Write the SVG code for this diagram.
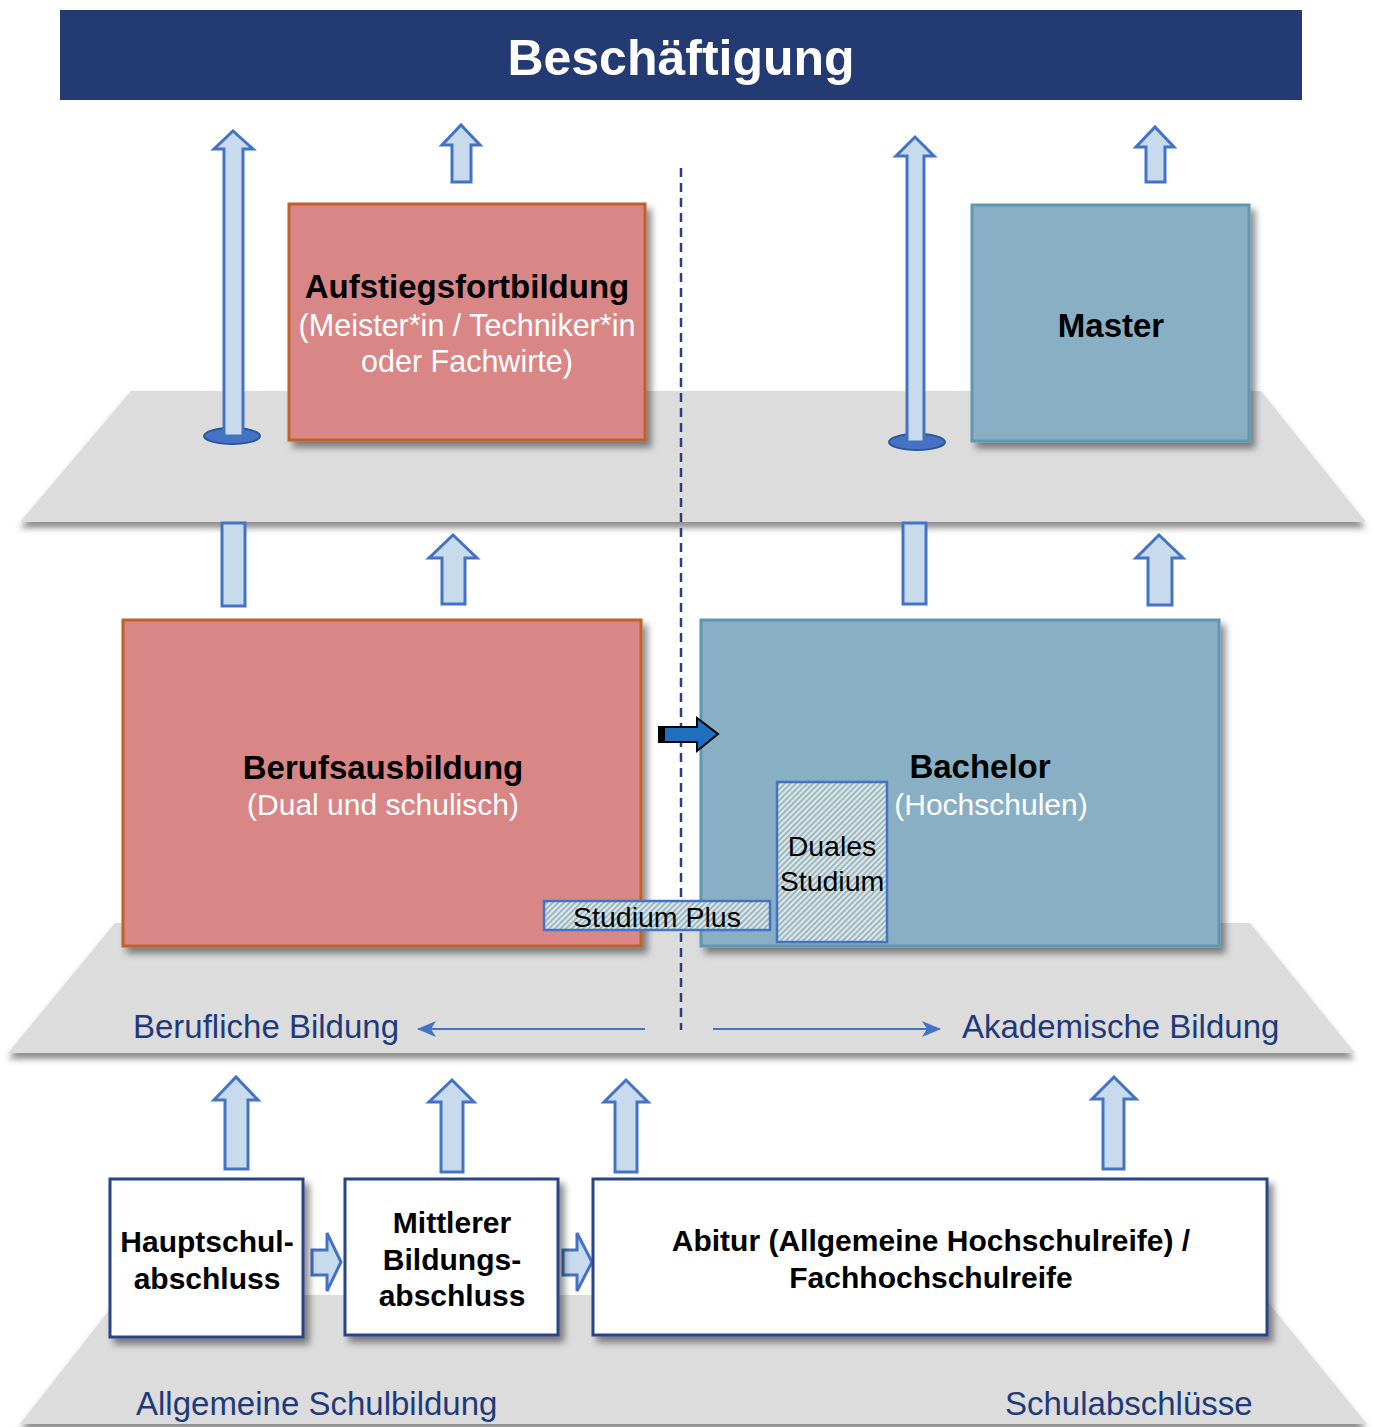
<svg xmlns="http://www.w3.org/2000/svg" width="1373" height="1427" viewBox="0 0 1373 1427">
<defs>
<style>
.plat{fill:#DCDCDC;filter:url(#pshadow)}
.blk{fill:#C8DBEC;stroke:#4472C4;stroke-width:3;stroke-linejoin:miter}
.red{fill:#D98686;stroke:#C0602A;stroke-width:3;filter:url(#bshadow)}
.teal{fill:#88AFC3;stroke:#5E97B4;stroke-width:3;filter:url(#bshadow)}
.school{fill:#FFFFFF;stroke:#2B4585;stroke-width:3;filter:url(#bshadow)}
.hatch{fill:url(#hatch);stroke:#4472C4;stroke-width:2.5}
.t{font-family:"Liberation Sans",Arial,sans-serif;text-anchor:middle}
.b{font-weight:bold;fill:#000}
.w{fill:#FFFFFF}
.k{fill:#000}
.lab{font-family:"Liberation Sans",Arial,sans-serif;font-size:33px;fill:#1F3A7A}
.ell{fill:#4472C4;stroke:#2F5597;stroke-width:2}
.harr{stroke:#4472C4;stroke-width:2;fill:none}
</style>
<filter id="pshadow" x="-5%" y="-10%" width="110%" height="130%">
<feDropShadow dx="0" dy="6" stdDeviation="3" flood-color="#404040" flood-opacity="0.6"/>
</filter>
<filter id="bshadow" x="-10%" y="-10%" width="125%" height="125%">
<feDropShadow dx="5" dy="6" stdDeviation="3.5" flood-color="#000" flood-opacity="0.45"/>
</filter>
<pattern id="hatch" width="4" height="4" patternUnits="userSpaceOnUse" patternTransform="rotate(45)">
<rect width="4" height="4" fill="#DDE7E9"/>
<rect width="2" height="4" fill="#9DB8BF"/>
</pattern>
<marker id="ah" viewBox="0 0 20 16" refX="19" refY="8" markerWidth="20" markerHeight="16" markerUnits="userSpaceOnUse" orient="auto">
<path d="M20,8 L1,0 L6,8 L1,16 Z" fill="#4472C4"/>
</marker>
</defs>

<rect width="1373" height="1427" fill="#FFFFFF"/>

<g id="platforms">
<polygon class="plat" points="131,391 1261,391 1366,522 20,522"/>
<polygon class="plat" points="115,923 1250,923 1355,1053 8,1053"/>
<polygon class="plat" points="121,1295 1262,1295 1367,1424 20,1424"/>
</g>

<g id="banner">
<rect x="60" y="10" width="1242" height="90" fill="#233A73"/>
<text class="t" x="681" y="75" font-size="50" font-weight="bold" fill="#FFFFFF">Beschäftigung</text>
</g>

<g id="connectors">
<ellipse class="ell" cx="232" cy="436" rx="28" ry="8"/>
<ellipse class="ell" cx="917" cy="442" rx="28" ry="8"/>
<path class="blk" d="M224,436 L224,149 L214,149 L233,131 L253,149 L243,149 L243,436 Z"/>
<path class="blk" d="M452,182 L452,145 L442,145 L461,125 L480,145 L471,145 L471,182 Z"/>
<path class="blk" d="M907,442 L907,156 L896,156 L915,137 L934,156 L924,156 L924,442 Z"/>
<path class="blk" d="M1146,182 L1146,147 L1136,147 L1155,127 L1174,147 L1165,147 L1165,182 Z"/>
<rect class="blk" x="222" y="523" width="23" height="83"/>
<path class="blk" d="M442,604 L442,558 L429,558 L453,535 L477,558 L465,558 L465,604 Z"/>
<rect class="blk" x="903" y="523" width="23" height="81"/>
<path class="blk" d="M1148,605 L1148,558 L1136,558 L1159,535 L1183,558 L1172,558 L1172,605 Z"/>
<path class="blk" d="M225,1169 L225,1100 L214,1100 L236,1077 L258,1100 L248,1100 L248,1169 Z"/>
<path class="blk" d="M441,1172 L441,1102 L429,1102 L452,1080 L474,1102 L463,1102 L463,1172 Z"/>
<path class="blk" d="M615,1172 L615,1102 L604,1102 L626,1080 L648,1102 L637,1102 L637,1172 Z"/>
<path class="blk" d="M1103,1169 L1103,1099 L1092,1099 L1114,1077 L1136,1099 L1124,1099 L1124,1169 Z"/>
<path class="blk" d="M312,1250 L327,1250 L327,1233 L341,1262 L327,1291 L327,1275 L312,1275 Z"/>
<path class="blk" d="M563,1250 L577,1250 L577,1233 L592,1262 L577,1291 L577,1275 L563,1275 Z"/>
<line class="harr" x1="645" y1="1029" x2="418" y2="1029" marker-end="url(#ah)"/>
<line class="harr" x1="713" y1="1029" x2="940" y2="1029" marker-end="url(#ah)"/>
</g>

<g id="aufstieg">
<rect class="red" x="289" y="204" width="356" height="236"/>
<text class="t b" x="467" y="298" font-size="33">Aufstiegsfortbildung</text>
<text class="t w" x="467" y="336" font-size="30.5">(Meister*in / Techniker*in</text>
<text class="t w" x="467" y="372" font-size="30.5">oder Fachwirte)</text>
</g>

<g id="master">
<rect class="teal" x="972" y="205" width="277" height="236"/>
<text class="t b" x="1111" y="337" font-size="33">Master</text>
</g>

<g id="berufsausbildung">
<rect class="red" x="123" y="620" width="518" height="326"/>
<text class="t b" x="383" y="779" font-size="33">Berufsausbildung</text>
<text class="t w" x="383" y="815" font-size="30">(Dual und schulisch)</text>
</g>

<g id="bachelor">
<rect class="teal" x="701" y="620" width="518" height="326"/>
<text class="t b" x="980" y="778" font-size="33">Bachelor</text>
<text class="t w" x="991" y="815" font-size="30">(Hochschulen)</text>
</g>

<g id="divider">
<line x1="681" y1="168" x2="681" y2="1030" stroke="#2B3F7E" stroke-width="2.5" stroke-dasharray="9 6"/>
</g>

<g id="duales-studium">
<rect class="hatch" x="777" y="782" width="110" height="160"/>
<text class="t k" x="832" y="856" font-size="28.5">Duales</text>
<text class="t k" x="832" y="891" font-size="28.5">Studium</text>
</g>

<g id="studium-plus">
<rect class="hatch" x="544" y="901" width="226" height="29"/>
<text class="t k" x="657" y="927" font-size="28.5">Studium Plus</text>
</g>

<g id="transfer-arrow">
<path d="M659,727 L697,727 L697,718 L718,734 L697,751 L697,742 L659,742 Z" fill="#1F6FBF" stroke="#000" stroke-width="2"/>
<rect x="659" y="727" width="6" height="15" fill="#000"/>
</g>

<g id="labels">
<text class="lab" x="133" y="1038">Berufliche Bildung</text>
<text class="lab" x="962" y="1038">Akademische Bildung</text>
<text class="lab" x="136" y="1415">Allgemeine Schulbildung</text>
<text class="lab" x="1005" y="1415">Schulabschlüsse</text>
</g>

<g id="hauptschul">
<rect class="school" x="110" y="1179" width="193" height="158"/>
<text class="t b" x="207" y="1252" font-size="30">Hauptschul-</text>
<text class="t b" x="207" y="1289" font-size="30">abschluss</text>
</g>

<g id="mittlerer">
<rect class="school" x="345" y="1179" width="213" height="156"/>
<text class="t b" x="452" y="1233" font-size="30">Mittlerer</text>
<text class="t b" x="452" y="1270" font-size="30">Bildungs-</text>
<text class="t b" x="452" y="1306" font-size="30">abschluss</text>
</g>

<g id="abitur">
<rect class="school" x="593" y="1179" width="674" height="156"/>
<text class="t b" x="931" y="1251" font-size="30">Abitur (Allgemeine Hochschulreife) /</text>
<text class="t b" x="931" y="1288" font-size="30">Fachhochschulreife</text>
</g>
</svg>
